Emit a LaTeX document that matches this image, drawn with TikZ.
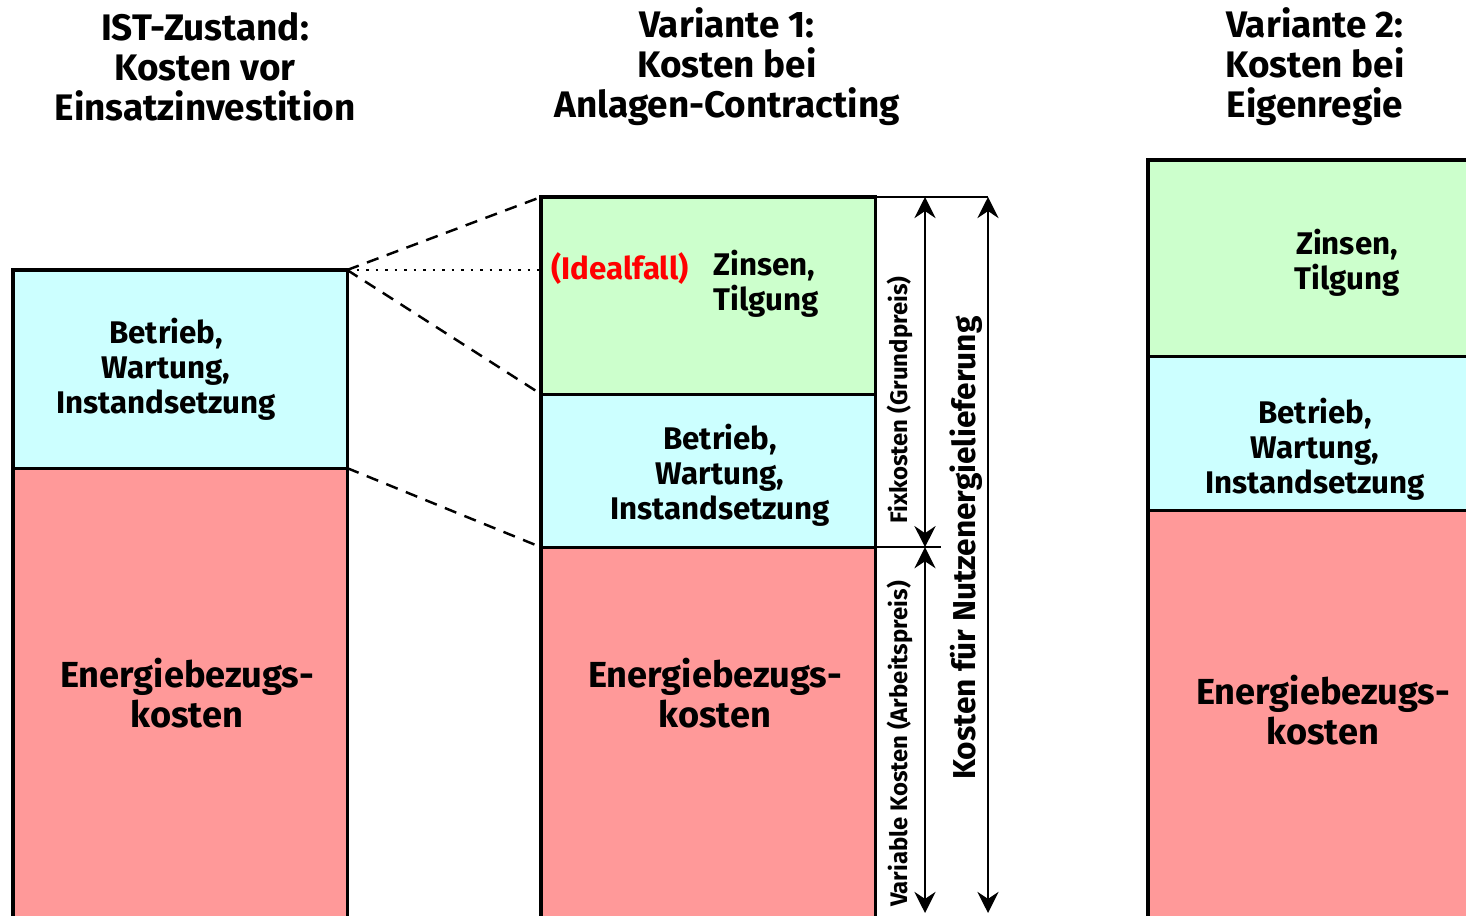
\documentclass[tikz,border=0pt]{standalone}
\usepackage{fontspec}
\setmainfont{Fira Sans}
\usetikzlibrary{arrows.meta,positioning}

\definecolor{zinsgruen}{HTML}{CCFFCC}
\definecolor{betriebblau}{HTML}{CCFFFF}
\definecolor{energierot}{HTML}{FF9999}

\tikzset{
    kostenblock/.style={draw, line width=0.9pt, anchor=north west, inner sep=0pt, outer sep=0pt, minimum width=3.34cm},
    titel/.style={align=center, font=\fontsize{10.5}{11.4}\selectfont\bfseries},
    blocktext/.style={align=center, font=\fontsize{8.9}{10}\selectfont\bfseries},
    grosstext/.style={align=center, font=\fontsize{10.3}{11.4}\selectfont\bfseries},
    masstext/.style={rotate=90, font=\fontsize{6.8}{8}\selectfont\bfseries},
    verbindung/.style={line width=0.7pt, dash pattern=on 3.5pt off 2.5pt},
    masspfeil/.style={line width=0.7pt, {Stealth[length=6pt,width=6pt,inset=2pt]}-{Stealth[length=6pt,width=6pt,inset=2pt]}}
}

\begin{document}
\begin{tikzpicture}[x=0.01cm, y=-0.01cm]
    \useasboundingbox (0,0) rectangle (1466,916);
    \clip (0,0) rectangle (1466,916);

    \node[titel] (ist-titel) at (205,67) {IST-Zustand:\\Kosten vor\\Einsatzinvestition};
    \node[titel] (v1-titel) at (727,67) {Variante 1:\\Kosten bei\\Anlagen-Contracting};
    \node[titel] (v2-titel) at (1315,67) {Variante 2:\\Kosten bei\\Eigenregie};

    \node[kostenblock, fill=betriebblau, minimum height=1.98cm] (ist-bw) at (13,270) {};
    \node[kostenblock, fill=energierot, minimum height=5cm] (ist-eb) at (ist-bw.south west) {};

    \node[kostenblock, fill=zinsgruen, minimum height=1.97cm] (v1-zt) at (541,197) {};
    \node[kostenblock, fill=betriebblau, minimum height=1.53cm] (v1-bw) at (v1-zt.south west) {};
    \node[kostenblock, fill=energierot, minimum height=5cm] (v1-eb) at (v1-bw.south west) {};

    \node[kostenblock, fill=zinsgruen, minimum height=1.96cm] (v2-zt) at (1148,160) {};
    \node[kostenblock, fill=betriebblau, minimum height=1.54cm] (v2-bw) at (v2-zt.south west) {};
    \node[kostenblock, fill=energierot, minimum height=5cm] (v2-eb) at (v2-bw.south west) {};

    \node[blocktext] (ist-bw-text) at (166,369) {Betrieb,\\Wartung,\\Instandsetzung};
    \node[grosstext] (ist-eb-text) at (187,693) {Energiebezugs-\\kosten};

    \node[blocktext, text=red] (ideal) at (620,269) {(Idealfall)};
    \node[blocktext, align=left, anchor=west] (v1-zt-text) at (701,284) {Zinsen,\\Tilgung};
    \node[blocktext] (v1-bw-text) at (720,475) {Betrieb,\\Wartung,\\Instandsetzung};
    \node[grosstext] (v1-eb-text) at (715,693) {Energiebezugs-\\kosten};

    \node[blocktext] (v2-zt-text) at (1347,263) {Zinsen,\\Tilgung};
    \node[blocktext] (v2-bw-text) at (1315,449) {Betrieb,\\Wartung,\\Instandsetzung};
    \node[grosstext] (v2-eb-text) at (1323,710) {Energiebezugs-\\kosten};

    \draw[verbindung] (ist-bw.north east) -- (v1-zt.north west);
    \draw[verbindung] (ist-bw.north east) -- (v1-bw.north west);
    \draw[verbindung] (ist-bw.south east) -- (v1-eb.north west);
    \draw[line width=0.7pt, dotted] (ist-bw.north east) -- (ist-bw.north east -| v1-zt.west);

    \coordinate (fix-x) at (925,0);
    \coordinate (ges-x) at (988,0);
    \coordinate (strich-x) at (941,0);
    \coordinate (unten) at (0,913);

    \draw[line width=0.7pt] (v1-zt.north east) -- (v1-zt.north east -| ges-x);
    \draw[line width=0.7pt] (v1-eb.north east) -- (v1-eb.north east -| strich-x);
    \draw[masspfeil] (v1-zt.north east -| fix-x) -- (v1-eb.north east -| fix-x);
    \draw[masspfeil] (v1-eb.north east -| fix-x) -- (fix-x |- unten);
    \draw[masspfeil] (v1-zt.north east -| ges-x) -- (ges-x |- unten);

    \node[masstext] (fix-text) at (900,400) {Fixkosten (Grundpreis)};
    \node[masstext] (var-text) at (900,744) {Variable Kosten (Arbeitspreis)};
    \node[rotate=90, font=\fontsize{9}{11}\selectfont\bfseries] (ges-text) at (966,548) {Kosten für Nutzenergielieferung};
\end{tikzpicture}
\end{document}
